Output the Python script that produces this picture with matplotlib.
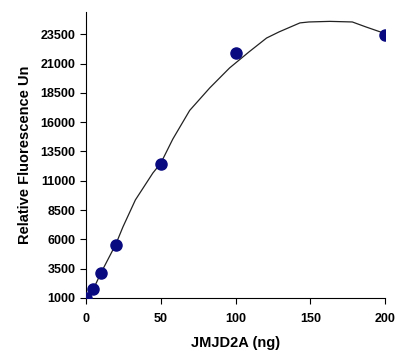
import matplotlib.pyplot as plt

# measured points
jmjd2a_ng = [0, 5, 10, 20, 50, 100, 200]
fluorescence = [1000, 1770, 3130, 5520, 12430, 21900, 23440]

# trend curve
curve_x = [0, 5, 10, 20, 24.7, 33, 44.7, 50, 58, 69.3, 82.7, 96, 109, 120.7, 129, 143, 149,
           163, 178, 187, 199]
curve_y = [1000, 1770, 3130, 5600, 7060, 9360, 11660, 12500, 14550, 17000, 18920, 20630,
           22000, 23180, 23700, 24470, 24550, 24600, 24550, 24130, 23600]

y_ticks = [1000, 3500, 6000, 8500, 11000, 13500, 16000, 18500, 21000, 23500]
x_ticks = [0, 50, 100, 150, 200]

plt.rcParams['font.family'] = ['Liberation Sans', 'DejaVu Sans']

fig = plt.figure(figsize=(3.99, 3.53), dpi=100)
ax = fig.add_axes([0.2155, 0.156, 0.75, 0.81])

ax.plot(curve_x, curve_y, color='#222222', lw=0.9, zorder=2)
ax.plot(jmjd2a_ng, fluorescence, 'o', color='#0a0a80', markersize=8, zorder=3)

ax.set_xlim(0, 200)
ax.set_ylim(1000, 25400)
ax.set_xticks(x_ticks)
ax.set_yticks(y_ticks)
ax.spines['top'].set_visible(False)
ax.spines['right'].set_visible(False)
ax.tick_params(direction='out', length=4, width=0.8, labelsize=9)
for lbl in ax.get_xticklabels() + ax.get_yticklabels():
    lbl.set_fontweight('bold')
ax.tick_params(axis='x', pad=7)

ax.set_xlabel('JMJD2A (ng)', fontsize=10.5, fontweight='bold', labelpad=8)
ax.set_ylabel('Relative Fluorescence Un', fontsize=10.5, fontweight='bold', labelpad=6)

fig.savefig('out.png', dpi=100)
